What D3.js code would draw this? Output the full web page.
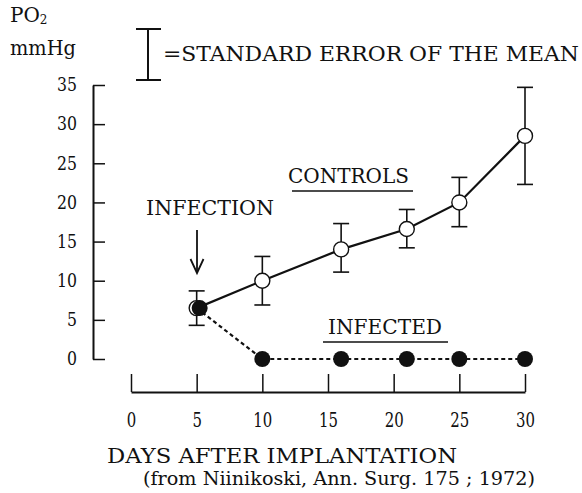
<!DOCTYPE html>
<html>
<head>
<meta charset="utf-8">
<script src="https://cdn.jsdelivr.net/npm/d3@7"></script>
<style>
  html, body { margin: 0; padding: 0; background: #fff; }
  svg { display: block; }
  svg text { font-family: "DejaVu Serif", "Liberation Serif", "Times New Roman", serif; fill: #111; }
</style>
</head>
<body>
<svg id="chart" width="582" height="493"></svg>
<script>
// ---- data ----
const xTicks = [0, 5, 10, 15, 20, 25, 30];
const yTicks = [0, 5, 10, 15, 20, 25, 30, 35];
const controlDays = [5, 10, 16, 21, 25, 30];
const controlMean = [6.5, 10.0, 14.0, 16.6, 20.0, 28.5];
const controlHigh = [8.7, 13.1, 17.3, 19.1, 23.2, 34.7];
const controlLow  = [4.3, 6.9, 11.1, 14.2, 16.9, 22.3];
const infectedDays = [5, 10, 16, 21, 25, 30];
const infectedMean = [6.5, 0, 0, 0, 0, 0];

const FONT = '"DejaVu Serif", "Liberation Serif", "Times New Roman", serif';
const svg = d3.select("#chart");
const x = d3.scaleLinear().domain([0, 30]).range([131, 525]);
const y = d3.scaleLinear().domain([0, 35]).range([359, 85]);

// ---- y axis ----
const yAxis = svg.append("g").attr("transform", "translate(93,0)")
  .call(d3.axisLeft(y).tickValues(yTicks).tickSizeInner(-12).tickSizeOuter(0).tickPadding(16));
yAxis.attr("font-family", FONT);
yAxis.select(".domain").attr("stroke", "#111").attr("stroke-width", 2);
yAxis.selectAll(".tick line").attr("stroke", "#111").attr("stroke-width", 1.5);
yAxis.selectAll(".tick text").attr("font-size", 18).attr("fill", "#111")
  .attr("textLength", d => String(d).length * 10).attr("lengthAdjust", "spacingAndGlyphs");

// ---- x axis ----
const xAxis = svg.append("g").attr("transform", "translate(0,392)")
  .call(d3.axisBottom(x).tickValues(xTicks).tickSizeInner(-18).tickSizeOuter(0).tickPadding(21));
xAxis.attr("font-family", FONT);
xAxis.select(".domain").attr("stroke", "#111").attr("stroke-width", 2);
xAxis.selectAll(".tick line").attr("stroke", "#111").attr("stroke-width", 1.5);
xAxis.selectAll(".tick text").attr("font-size", 20).attr("fill", "#111")
  .attr("textLength", d => String(d).length * 9.5).attr("lengthAdjust", "spacingAndGlyphs");

// ---- infected dashed line ----
const infData = infectedDays.map((d, i) => ({ d, v: infectedMean[i] }));
svg.append("path").datum(infData)
  .attr("fill", "none").attr("stroke", "#111").attr("stroke-width", 2.2)
  .attr("stroke-dasharray", "4,3")
  .attr("d", d3.line().x(p => x(p.d)).y(p => y(p.v)));

// ---- control line ----
const ctlData = controlDays.map((d, i) => ({ d, v: controlMean[i], hi: controlHigh[i], lo: controlLow[i] }));
svg.append("path").datum(ctlData)
  .attr("fill", "none").attr("stroke", "#111").attr("stroke-width", 2.2)
  .attr("d", d3.line().x(p => x(p.d)).y(p => y(p.v)));

// ---- error bars ----
const eb = svg.append("g").attr("stroke", "#111").attr("stroke-width", 1.6);
ctlData.forEach(p => {
  eb.append("line").attr("x1", x(p.d)).attr("x2", x(p.d)).attr("y1", y(p.hi)).attr("y2", y(p.lo));
  eb.append("line").attr("x1", x(p.d) - 8).attr("x2", x(p.d) + 8).attr("y1", y(p.hi)).attr("y2", y(p.hi));
  eb.append("line").attr("x1", x(p.d) - 8).attr("x2", x(p.d) + 8).attr("y1", y(p.lo)).attr("y2", y(p.lo));
});

// ---- control markers (open) ----
svg.append("g").selectAll("circle").data(ctlData).join("circle")
  .attr("cx", p => x(p.d)).attr("cy", p => y(p.v)).attr("r", 7.5)
  .attr("fill", "#fff").attr("stroke", "#111").attr("stroke-width", 1.4);

// ---- infected markers (filled) ----
svg.append("g").selectAll("circle").data(infData).join("circle")
  .attr("cx", p => x(p.d)).attr("cy", p => y(p.v)).attr("r", 8)
  .attr("transform", (p, i) => i === 0 ? "translate(3,0)" : null)
  .attr("fill", "#111");

// ---- annotations ----
function label(txt, xp, yp, size, len) {
  const t = svg.append("text").attr("x", xp).attr("y", yp)
    .attr("font-family", FONT).attr("font-size", size).text(txt);
  if (len) t.attr("textLength", len).attr("lengthAdjust", "spacingAndGlyphs");
  return t;
}
const po = svg.append("text").attr("x", 10).attr("y", 22).attr("font-family", FONT).attr("font-size", 20);
po.append("tspan").text("PO");
po.append("tspan").attr("font-size", 12).attr("dy", 2).text("2");
label("mmHg", 10, 55, 20, 66);

// legend error bar symbol
const lg = svg.append("g").attr("stroke", "#111").attr("stroke-width", 2);
lg.append("line").attr("x1", 148).attr("x2", 148).attr("y1", 29).attr("y2", 80);
lg.append("line").attr("x1", 136).attr("x2", 161).attr("y1", 29).attr("y2", 29);
lg.append("line").attr("x1", 136).attr("x2", 161).attr("y1", 80).attr("y2", 80);
label("=STANDARD ERROR OF THE MEAN", 163, 61, 20, 416);

label("INFECTION", 146, 215, 20, 128);
// arrow
const ar = svg.append("g").attr("stroke", "#111").attr("stroke-width", 1.8).attr("fill", "none");
ar.append("line").attr("x1", 197).attr("x2", 197).attr("y1", 230).attr("y2", 273);
ar.append("path").attr("d", "M190.5,259 L197,273 L203.5,259");

label("CONTROLS", 288, 183, 20, 121);
svg.append("line").attr("x1", 292).attr("x2", 413).attr("y1", 191).attr("y2", 191)
  .attr("stroke", "#111").attr("stroke-width", 1.4);
label("INFECTED", 328, 334, 20, 114);
svg.append("line").attr("x1", 323).attr("x2", 448).attr("y1", 342).attr("y2", 342)
  .attr("stroke", "#111").attr("stroke-width", 1.4);

label("DAYS AFTER IMPLANTATION", 107, 463, 20, 350);
label("(from Niinikoski, Ann. Surg. 175 ; 1972)", 143, 485, 19, 392);
</script>
</body>
</html>
